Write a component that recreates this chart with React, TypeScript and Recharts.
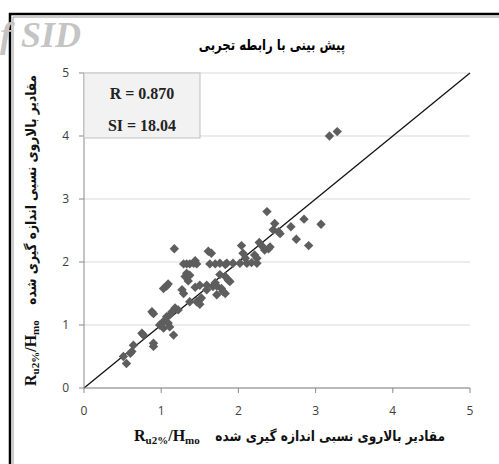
import { ScatterChart, Scatter, XAxis, YAxis, CartesianGrid, ReferenceLine } from 'recharts';

// measured (x) vs predicted (y) relative run-up values
const measured = [
  0.51, 0.55, 0.60, 0.62, 0.64, 0.75, 0.77, 0.88, 0.90, 0.90, 0.90, 0.98, 1.01, 1.03, 1.05, 1.07,
  1.09, 1.11, 1.11, 1.16, 1.14, 1.18, 1.22, 1.03, 1.07, 1.09, 1.17,
  1.27, 1.29, 1.31, 1.33, 1.35, 1.37, 1.37, 1.46, 1.50, 1.50, 1.29, 1.33, 1.37, 1.42, 1.46, 1.44,
  1.61, 1.65, 1.44, 1.50, 1.59, 1.67, 1.72, 1.78, 1.80, 1.83, 1.72, 1.59, 1.52, 1.76, 1.83, 1.70,
  1.87, 1.89, 1.63, 1.70, 1.76, 1.83, 1.85, 1.93, 2.02, 2.11, 2.17, 2.24, 2.09, 2.06, 2.04, 2.21,
  2.24, 2.27, 2.30, 2.39, 2.34, 2.41,
  2.37, 2.47, 2.52, 2.45, 2.54, 2.68, 2.85, 3.07, 2.75, 2.91, 3.18, 3.28,
];
const predicted = [
  0.50, 0.39, 0.55, 0.58, 0.68, 0.87, 0.84, 1.21, 1.18, 0.71, 0.66, 1.00, 1.03, 0.95, 1.08, 1.13,
  1.03, 0.97, 1.16, 0.84, 1.21, 1.27, 1.24, 1.58, 1.62, 1.65, 2.21,
  1.56, 1.50, 1.77, 1.82, 1.70, 1.79, 1.37, 1.37, 1.40, 1.33, 1.97, 1.97, 1.97, 1.98, 1.97, 2.02,
  2.17, 2.14, 1.60, 1.63, 1.63, 1.61, 1.62, 1.58, 1.53, 1.50, 1.48, 1.56, 1.43, 1.80, 1.77, 1.67,
  1.71, 1.69, 1.97, 1.97, 1.98, 1.96, 1.98, 1.98, 1.98, 1.98, 1.99, 1.98, 2.06, 2.14, 2.26, 2.11,
  2.06, 2.31, 2.26, 2.21, 2.19, 2.24,
  2.80, 2.61, 2.48, 2.51, 2.45, 2.56, 2.68, 2.60, 2.36, 2.26, 4.00, 4.07,
];
const ticks = [0, 1, 2, 3, 4, 5];
const identity = [
  { x: 0, y: 0 },
  { x: 5, y: 5 },
];

const points = measured.map((x, i) => ({ x, y: predicted[i] }));

const title = 'پیش بینی با رابطه تجربی';
const axisText = 'مقادیر بالاروی نسبی اندازه گیری شده';

const Diamond = (props: any) => {
  const { cx, cy } = props;
  const r = 4.7;
  return (
    <polygon
      points={`${cx},${cy - r} ${cx + r},${cy} ${cx},${cy + r} ${cx - r},${cy}`}
      fill="#5e5e5e"
    />
  );
};

// R u2% / H mo with subscripts
const RuLabel = () => (
  <>
    <tspan>R</tspan>
    <tspan fontSize={11} dy={3}>u2%</tspan>
    <tspan dy={-3}>/H</tspan>
    <tspan fontSize={11} dy={3}>mo</tspan>
  </>
);

const App = () => {
  const tickStyle = { fill: '#404040', fontSize: 12, fontFamily: 'Open Sans' };
  return (
    <div style={{ position: 'fixed', left: 0, top: 0, width: 499, height: 464, background: '#fff' }}>
      <ScatterChart width={499} height={464} margin={{ top: 73, right: 29, bottom: 0, left: 0 }}>
        <CartesianGrid vertical={false} stroke="#d9d9d9" />
        <XAxis
          type="number"
          dataKey="x"
          domain={[0, 5]}
          ticks={ticks}
          height={76}
          stroke="#898989"
          tickSize={5}
          tickMargin={13}
          tick={tickStyle}
        />
        <YAxis
          type="number"
          dataKey="y"
          domain={[0, 5]}
          ticks={ticks}
          width={84}
          stroke="#898989"
          tickSize={5}
          tickMargin={10}
          tick={tickStyle}
        />
        <Scatter data={points} shape={Diamond} isAnimationActive={false} />
        <ReferenceLine segment={identity} stroke="#111" strokeWidth={1.3} />
      </ScatterChart>
      <svg
        width={499}
        height={464}
        style={{ position: 'absolute', left: 0, top: 0, pointerEvents: 'none' }}
      >
        <path d="M10 464 V14 H499" fill="none" stroke="#000" strokeWidth={2.5} />
        <path d="M13 464 V17 H499" fill="none" stroke="#9a9a9a" strokeWidth={1} />
        <text
          x={0}
          y={47}
          fontSize={36}
          fontWeight="bold"
          fontStyle="italic"
          fontFamily="Liberation Serif"
          fill="#c4c4c4"
        >
          f SID
        </text>
        <g transform="translate(272,50) scale(0.78,1)">
          <text
            x={0}
            y={0}
            textAnchor="middle"
            fontSize={15}
            fontWeight="bold"
            fontFamily="DejaVu Sans"
            fill="#000"
          >
            {title}
          </text>
        </g>
        <rect x={84} y={73} width={116} height={65} fill="#f2f2f2" stroke="#bfbfbf" />
        <text x={142} y={99} textAnchor="middle" fontSize={16} fontWeight="bold" fontFamily="Liberation Serif" fill="#222">
          R = 0.870
        </text>
        <text x={142} y={131} textAnchor="middle" fontSize={16} fontWeight="bold" fontFamily="Liberation Serif" fill="#222">
          SI = 18.04
        </text>
        {/* x axis title */}
        <text x={134} y={441} fontSize={16} fontWeight="bold" fontFamily="Liberation Serif" fill="#111">
          <RuLabel />
        </text>
        <g transform="translate(445,441) scale(0.87,1)">
          <text x={0} y={0} textAnchor="end" fontSize={14} fontWeight="bold" fontFamily="DejaVu Sans" fill="#111">
            {axisText}
          </text>
        </g>
        {/* y axis title */}
        <g transform="translate(36,386) rotate(-90)">
          <text x={0} y={0} fontSize={16} fontWeight="bold" fontFamily="Liberation Serif" fill="#111">
            <RuLabel />
          </text>
          <g transform="translate(311,0) scale(0.87,1)">
            <text x={0} y={0} textAnchor="end" fontSize={14} fontWeight="bold" fontFamily="DejaVu Sans" fill="#111">
              {axisText}
            </text>
          </g>
        </g>
      </svg>
    </div>
  );
};

export default App;
